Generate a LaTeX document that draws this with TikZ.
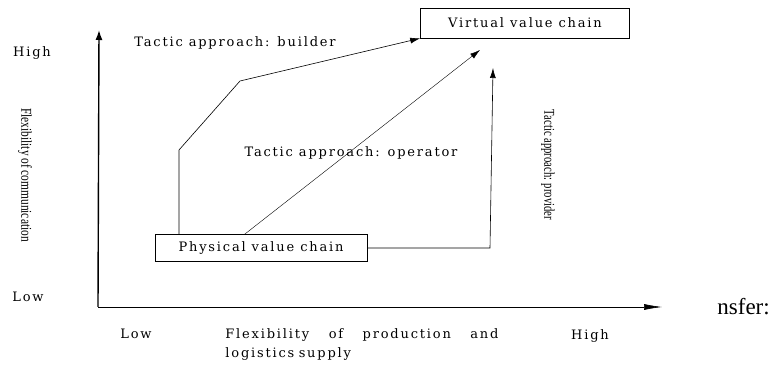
\documentclass[tikz,border=0pt]{standalone}
\usepackage{fontspec}
\setmainfont{DejaVu Serif}[LetterSpace=14]
\newfontfamily\plainfont{Liberation Serif}
\usepackage{tikz}
\usetikzlibrary{arrows.meta}
\tikzstyle{chain}=[draw, rectangle, semithick, inner sep=0pt, font=\fontsize{13}{15}\selectfont]
\tikzstyle{label}=[font=\fontsize{13}{19}\selectfont, inner sep=0pt]
\tikzstyle{side}=[font=\plainfont\fontsize{15}{17}\selectfont, inner sep=0pt, rotate=-90]
\tikzstyle{tip}=[-{Latex[length=10pt,width=6pt]}]

\begin{document}
\begin{tikzpicture}[x=1pt, y=-1pt, thick]%
	\useasboundingbox (0,0) rectangle (772,366);

	% axes
	\coordinate (Origin) at (98,307);
	\coordinate (Y_Tip)  at (99,30);
	\coordinate (X_Tip)  at (662,307);
	\draw [-{Latex[length=10pt,width=7pt]}, line width=1.4pt] (Origin) -- (Y_Tip);
	\draw [-{Latex[length=18pt,width=6pt]}, semithick] (Origin) -- (X_Tip);

	% value chains
	\draw  (525,23)  node (Chain_Virtual)  [chain, minimum width=209pt, minimum height=30pt] {Virtual value chain};
	\draw  (261,248) node (Chain_Physical) [chain, minimum width=212pt, minimum height=27pt] {Physical value chain};

	% builder
	\coordinate (Bend_1B) at (179,150);
	\coordinate (Bend_2B) at (240,81);
	\draw [tip, semithick] (Chain_Physical.north -| Bend_1B) -- (Bend_1B) -- (Bend_2B) -- (Chain_Virtual.south west);

	% operator
	\coordinate (Tip_O) at (480,50);
	\draw [tip, thin] (Chain_Physical.north west) ++(90,0) coordinate (Start_O) -- (Tip_O);

	% provider
	\coordinate (Bend_P) at (490,248);
	\coordinate (Tip_P) at (493,68);
	\draw [tip, semithick] (Chain_Physical.east) -- (Bend_P) -- (Tip_P);

	% texts
	\draw  (32,53)   node (High_Y)    [label] {High};
	\draw  (28,297)  node (Low_Y)     [label] {Low};
	\draw  (136,334) node (Low_X)     [label] {Low};
	\draw  (590,336) node (High_X)    [label] {High};
	\draw  (235,43)  node (Text_B)    [label] {Tactic approach: builder};
	\draw  (351,153) node (Text_O)    [label] {Tactic approach: operator};
	\draw  (25,175)  node (Text_Y)    [side] {\scalebox{0.76}[1]{Flexibility of communication}};
	\draw  (548,165) node (Text_P)    [side] {\scalebox{0.71}[1]{Tactic approach: provider}};
	\draw  (225,345) node (Text_X) [label, anchor=west, text width=273pt, align=left]
		{Flexibility\hfill of\hfill production\hfill and\\logistics supply};
	\draw  (717,307) node (Text_N)    [anchor=west, inner sep=0pt, font=\plainfont\fontsize{23}{25}\selectfont] {nsfer:};
\end{tikzpicture}
\end{document}
